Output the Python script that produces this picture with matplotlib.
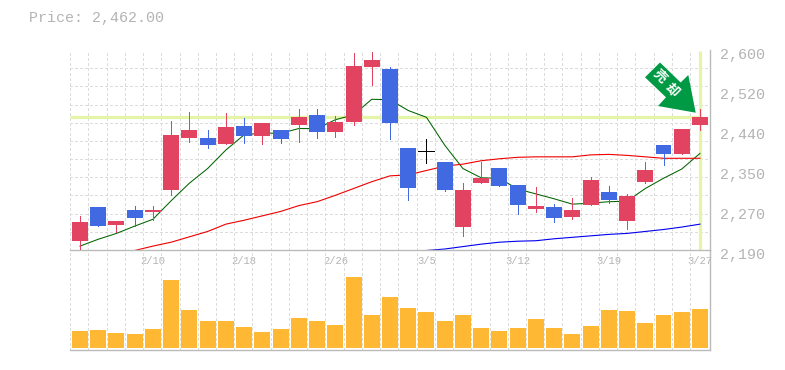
import numpy as np
import matplotlib
matplotlib.use('Agg')
import matplotlib.pyplot as plt
from matplotlib.patches import Polygon
from matplotlib.transforms import ScaledTranslation

plt.rcParams['font.family'] = ['Liberation Mono', 'DejaVu Sans Mono']

# open, close, high, low
opens = [2208, 2278, 2241, 2272, 2268, 2313, 2420, 2420, 2407, 2444, 2424, 2436, 2446, 2467,
         2432, 2452, 2565, 2561, 2399, 2392, 2370, 2237, 2327, 2358, 2323,
         2274, 2278, 2258, 2282, 2309, 2249, 2329, 2405, 2387, 2446]
closes = [2247, 2239, 2249, 2256, 2272, 2426, 2436, 2405, 2442, 2424, 2450, 2418, 2462, 2432,
          2452, 2567, 2580, 2450, 2317, 2392, 2313, 2313, 2338, 2321, 2282,
          2280, 2256, 2272, 2334, 2293, 2301, 2354, 2387, 2438, 2462]
highs = [2260, 2278, 2249, 2280, 2280, 2455, 2473, 2436, 2471, 2461, 2450, 2436, 2479, 2479,
         2465, 2594, 2596, 2565, 2399, 2418, 2370, 2327, 2370, 2358, 2323,
         2319, 2284, 2297, 2340, 2321, 2305, 2370, 2405, 2438, 2479]
lows = [2190, 2239, 2227, 2239, 2252, 2303, 2411, 2399, 2407, 2409, 2407, 2409, 2411, 2420,
        2422, 2446, 2528, 2418, 2293, 2368, 2311, 2219, 2327, 2321, 2264,
        2268, 2247, 2254, 2282, 2286, 2233, 2327, 2364, 2387, 2436]
ma_short = [2198, 2212, 2224, 2239, 2253, 2291, 2327, 2357, 2395, 2426, 2430, 2429, 2439, 2439,
            2457, 2467, 2499, 2498, 2476, 2462, 2405, 2357, 2338, 2337, 2315,
            2305, 2295, 2284, 2286, 2289, 2290, 2316, 2337, 2356, 2388]
ma_mid = [np.nan, np.nan, np.nan, 2189, 2198, 2206, 2217, 2228, 2243, 2251, 2260, 2269, 2281, 2289,
          2302, 2316, 2330, 2342, 2344, 2353, 2362, 2366, 2373, 2377, 2380,
          2381, 2381, 2381, 2385, 2386, 2384, 2381, 2378, 2378, 2378]
ma_long = [np.nan] * 19 + [2189, 2192, 2197, 2202, 2206, 2208, 2209, 2213, 2216, 2219, 2222, 2224,
                           2228, 2232, 2237, 2243]
volume = [51, 54, 45, 42, 57, 204, 114, 81, 81, 63, 48, 57, 90, 81, 69, 213, 99, 153,
          120, 108, 81, 99, 60, 51, 60, 87, 60, 42, 66, 114, 111, 75, 99, 108, 117]
date_pos = [4, 9, 14, 19, 24, 29, 34]
date_labels = ['2/10', '2/18', '2/26', '3/5', '3/12', '3/19', '3/27']
price_ticks = ['2,190', '2,270', '2,350', '2,440', '2,520', '2,600']
last_price = 2462

RED = '#e24360'
BLUE = '#4169e1'
ORANGE = '#ffb833'
GRID = '#dcdcdc'
AXIS = '#bbbbbb'
TEXT = '#b4b4b4'
LIME = '#e4f5a8'

W, H = 785, 370
fig = plt.figure(figsize=(W / 100, H / 100), dpi=100)
ax = fig.add_axes([70 / W, 1 - 250 / H, 640 / W, 200 / H])
ax2 = fig.add_axes([70 / W, 1 - 350 / H, 640 / W, 100 / H])

x = np.arange(len(opens))
xmin, xmax = -0.548, 34.55
grid_x = np.arange(35) - 0.54
dash = (0, (4.3, 2.9))

ax.set_xlim(xmin, xmax)
ax.set_ylim(2190, 2600)
ax2.set_xlim(xmin, xmax)
ax2.set_ylim(-6, 294)

# grid
ax.set_xticks(grid_x, minor=True)
ax.set_yticks(np.linspace(2190, 2600, 12), minor=True)
ax.grid(which='minor', color=GRID, lw=0.5, ls=dash, zorder=0, antialiased=False)
ax.tick_params(which='minor', length=0)
ax2.set_xticks(grid_x, minor=True)
ax2.grid(which='minor', axis='x', color=GRID, lw=0.5, ls=dash, zorder=0, antialiased=False)
ax2.tick_params(which='minor', length=0)
ax2.set_xticks([])
ax2.set_yticks([])

# current price guides
ax.plot([xmin, 34], [last_price, last_price], color=LIME, lw=2.3, zorder=1, solid_capstyle='butt')
ax.plot([34, 34], [2191, 2598], color=LIME, lw=2.3, zorder=1, solid_capstyle='butt')

# moving averages
ax.plot(x, ma_short, color='#006400', lw=0.75, zorder=2)
ax.plot(x, ma_mid, color='#f00000', lw=0.8, zorder=2)
ax.plot(x, ma_long, color='#0000f0', lw=0.8, zorder=2)

# candles
for i in x:
    if closes[i] > opens[i]:
        c = RED
    elif closes[i] < opens[i]:
        c = BLUE
    else:
        c = 'black'
    ax.plot([i, i], [lows[i], highs[i]], color=c, lw=0.5, zorder=3, solid_capstyle='butt', antialiased=False)
    if c == 'black':
        ax.plot([i - 0.44, i + 0.44], [opens[i], opens[i]], color=c, lw=0.5, zorder=3, antialiased=False)
    else:
        ax.bar(i, closes[i] - opens[i], bottom=opens[i], width=0.877, color=c, zorder=4, antialiased=False)

# arrow
arrow_px = [(660, 62.5), (680.7, 82.5), (688.3, 75), (695.7, 112.7), (658, 106), (666, 97.3), (645, 77.3)]
arrow = Polygon([(px / W, 1 - py / H) for px, py in arrow_px], closed=True,
                transform=fig.transFigure, facecolor='#009944', edgecolor='none', zorder=5)
fig.add_artist(arrow)
fig.text(659.5 / W, 1 - 76.5 / H, '売', color='white', fontsize=9.5, rotation=-45, ha='center', va='center',
         family=['Noto Sans CJK JP'], fontweight='bold', zorder=6)
fig.text(672 / W, 1 - 90 / H, '却', color='white', fontsize=9.5, rotation=-45, ha='center', va='center',
         family=['Noto Sans CJK JP'], fontweight='bold', zorder=6)

# axis styling
for a in (ax, ax2):
    for s in a.spines.values():
        s.set_visible(False)
    a.spines['right'].set_visible(True)
    a.spines['bottom'].set_visible(True)
    a.spines['right'].set_color(AXIS)
    a.spines['bottom'].set_color(AXIS)
    a.spines['right'].set_linewidth(1.0)
    a.spines['bottom'].set_linewidth(1.0)
    a.set_axisbelow(True)
    a.patch.set_alpha(0)

# price and date labels
ax.yaxis.tick_right()
ax.set_yticks(np.linspace(2190, 2600, 6), price_ticks)
ax.tick_params(axis='y', which='major', length=0, pad=7, labelsize=10.8, labelcolor=TEXT)
shift = ScaledTranslation(0, -3 / 100, fig.dpi_scale_trans)
for lab in ax.get_yticklabels():
    lab.set_transform(lab.get_transform() + shift)
ax.set_xticks(date_pos, date_labels)
ax.tick_params(axis='x', which='major', length=0, pad=4, labelsize=7.6, labelcolor=TEXT)

# volume
ax2.bar(x, volume, width=0.877, color=ORANGE, zorder=3, antialiased=False)

fig.text(29 / W, 1 - 18 / H, 'Price: 2,462.00', color=TEXT, fontsize=10.8, va='center', ha='left')

fig.savefig('out.png', dpi=100)
